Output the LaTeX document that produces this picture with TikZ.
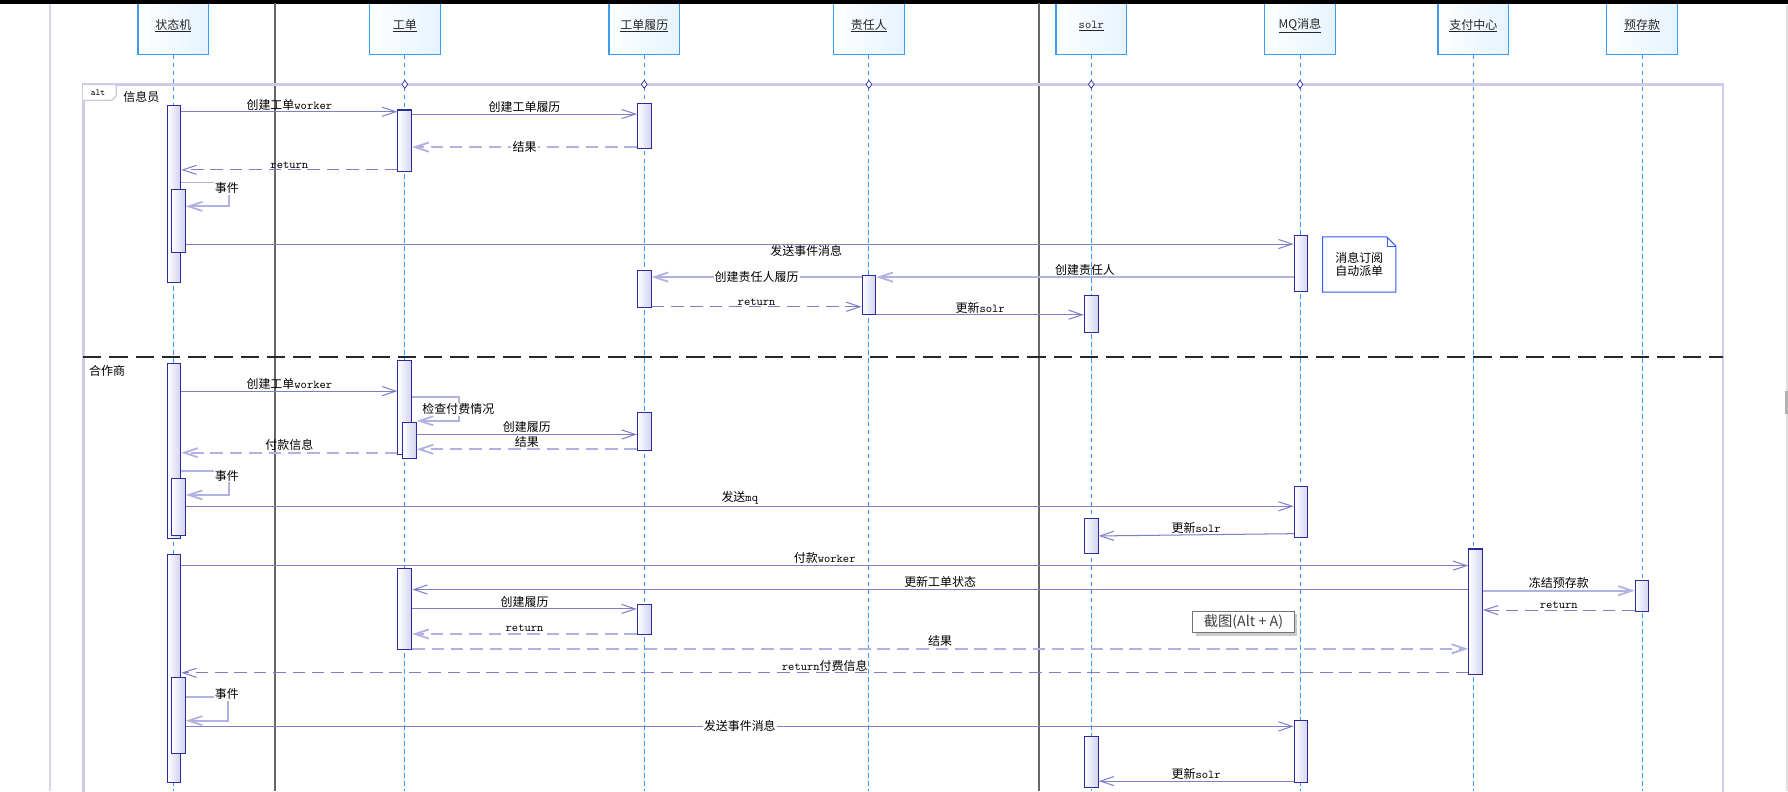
\documentclass[tikz,border=0pt]{standalone}
\usepackage{fontspec}
\setmainfont{Noto Sans CJK SC}
\usetikzlibrary{arrows.meta,calc,shadows}
\definecolor{msgline}{HTML}{7F7FC8}
\definecolor{msglight}{HTML}{B2B2E2}
\definecolor{actedge}{HTML}{2B2B99}
\definecolor{actfill}{HTML}{D2D2F2}
\definecolor{lifeblue}{HTML}{3399FF}
\definecolor{headedge}{HTML}{3C9CF0}
\definecolor{headfill}{HTML}{E6F3FF}
\definecolor{framelav}{HTML}{CCCCE8}
\definecolor{sepgray}{HTML}{666666}
\definecolor{noteblue}{HTML}{2F5BFF}
\newcommand{\eng}[1]{{\ttfamily #1}}

\tikzset{
  head/.style={draw=headedge, line width=1pt, left color=white, right color=headfill,
    minimum width=62, minimum height=50, anchor=south, text=black!85,
    font=\fontsize{10.5}{12}\selectfont},
  lifeline/.style={lifeblue, line width=0.8pt, dash pattern=on 4pt off 3pt},
  act/.style={draw=actedge, line width=0.9pt, left color=white, right color=actfill,
    minimum width=12, inner sep=0pt, anchor=north},
  msg/.style={msgline, line width=0.9pt, -{Straight Barb[length=12pt,width=8pt]}},
  msgl/.style={msg, msglight, line width=1.6pt},
  ret/.style={msg, dash pattern=on 11pt off 6pt},
  retl/.style={msgl, dash pattern=on 11pt off 6pt},
  lbl/.style={font=\fontsize{10.5}{12}\selectfont, inner sep=1pt, text=black},
  lblup/.style={lbl, anchor=south},
  lblon/.style={lbl, fill=white},
  notebox/.style={minimum width=64, minimum height=48, inner sep=0pt, align=center,
    text=black, font=\fontsize{10.5}{12}\selectfont},
  shotbox/.style={draw=black!55, fill=white, line width=0.8pt, text=black!75,
    font=\fontsize{12.5}{13}\selectfont, minimum width=89, minimum height=19, inner sep=1pt,
    drop shadow={shadow xshift=2.5pt, shadow yshift=-2.5pt, fill=black!40}},
}

\begin{document}
\begin{tikzpicture}[x=1pt,y=-1pt,>=Latex]
\useasboundingbox (0,0) rectangle (1568,694);
\fill[white] (0,0) rectangle (1568,694);
\draw[framelav!80, line width=1.2pt] (44,0) -- (44,694);

% lifelines
\foreach \n/\x/\t in {sm/152/状态机, wo/355/工单, woh/565/工单履历, resp/762/责任人,
    solr/957/\eng{solr}, mq/1140/MQ消息, pay/1292/支付中心, dep/1440/预存款}{
  \draw[lifeline] (\x,48) -- (\x,694);
  \node[head] (\n) at (\x,48) {\underline{\t}};
}
\fill[black] (0,0) rectangle (1568,3.5);
\fill[black!12] (1566.5,4) rectangle (1568,694);
\fill[black!30] (1565.5,343) rectangle (1568,363);
\draw[sepgray, line width=1.2pt] (241,3) -- (241,694);
\draw[sepgray, line width=1.2pt] (911,3) -- (911,694);

% alt frame
\draw[framelav, line width=2.5pt] (73,700) -- (73,74) -- (1511,74) -- (1511,700);
\draw[framelav, line width=1.3pt, fill=white] (73,74) -- (102,74) -- (102,84) -- (98,88) -- (73,88);
\node[font=\fontsize{8}{9}\selectfont\ttfamily, inner sep=0pt] (altlbl) at (86,81) {alt};
\foreach \x in {355,565,762,957,1140}
  \draw[actedge, fill=white, line width=0.6pt] (\x,70.5) -- (\x+2.5,74) -- (\x,77.5) -- (\x-2.5,74) -- cycle;
\draw[black!85, line width=1.4pt, dash pattern=on 16pt off 7pt] (73,313) -- (1511,313);
\node[lbl, anchor=west] (g1) at (107,85) {信息员};
\node[lbl, anchor=west] (g2) at (77,325) {合作商};

% 信息员
\node[act, minimum height=155] (sm1) at (152.5,92) {};
\node[act, minimum height=55] (sm1b) at (156.5,166) {};
\node[act, minimum height=54] (wo1) at (355,96) {};
\node[act, minimum height=40] (woh1) at (565,90) {};
\node[act, minimum height=49] (mq1) at (1141,206) {};
\node[act, minimum height=34] (resp1) at (762,241) {};
\node[act, minimum height=32] (woh2) at (565,237) {};
\node[act, minimum height=32] (solr1) at (957,259) {};

\draw[msg] (sm1.east |- 0,98) -- node[lblup]{创建工单\eng{worker}} (wo1.west |- 0,98);
\draw[msg] (wo1.east |- 0,100) -- node[lblup]{创建工单履历} (woh1.west |- 0,100);
\draw[retl] (woh1.west |- 0,129) -- node[lblon]{结果} (wo1.east |- 0,129);
\draw[ret] (wo1.west |- 0,149) -- node[lblup]{\eng{return}} (sm1.east |- 0,149);
\draw[msgl] (sm1.east |- 0,160) -- ++(42,0) |- (sm1b.east |- 0,181);
\node[lblon] (ev1) at (199,165) {事件};
\draw[msg] (sm1b.east |- 0,214) -- node[lbl, pos=0.56, anchor=north]{发送事件消息} (mq1.west |- 0,214);
\node[notebox] (sub) at (1192,232) {消息订阅\\自动派单};
\draw[noteblue, line width=0.9pt] (sub.north west) -- ($(sub.north east)+(-8,0)$)
  -- ($(sub.north east)+(0,8)$) |- (sub.south west) -- cycle;
\draw[noteblue, line width=0.6pt] ($(sub.north east)+(-8,0)$) |- ($(sub.north east)+(0,8)$);
\draw[msgl] (mq1.west |- 0,243) -- node[lblup]{创建责任人} (resp1.east |- 0,243);
\draw[msgl] (resp1.west |- 0,243) -- node[lblon]{创建责任人履历} (woh2.east |- 0,243);
\draw[ret] (woh2.east |- 0,269) -- node[lblup]{\eng{return}} (resp1.west |- 0,269);
\draw[msg] (resp1.east |- 0,276) -- node[lblup]{更新\eng{solr}} (solr1.west |- 0,276);

% 合作商
\node[act, minimum height=154] (sm2) at (152.5,318) {};
\node[act, minimum height=50] (sm2b) at (156.5,419) {};
\node[act, minimum height=82] (wo2) at (355,316) {};
\node[act, minimum height=32] (wo2b) at (359,370) {};
\node[act, minimum height=34] (woh3) at (565,361) {};
\node[act, minimum height=45] (mq2) at (1141,426) {};
\node[act, minimum height=31] (solr2) at (957,454) {};

\draw[msg] (sm2.east |- 0,343) -- node[lblup]{创建工单\eng{worker}} (wo2.west |- 0,343);
\draw[msgl] (wo2.east |- 0,348) -- ++(41,0) |- (wo2b.east |- 0,369);
\node[lblon] (chk) at (402,359) {检查付费情况};
\draw[msg] (wo2b.east |- 0,381) -- node[lblup]{创建履历} (woh3.west |- 0,381);
\draw[retl] (woh3.west |- 0,394) -- node[lblup]{结果} (wo2b.east |- 0,394);
\draw[retl] (wo2.west |- 0,397) -- node[lblup]{付款信息} (sm2.east |- 0,397);
\draw[msgl] (sm2.east |- 0,413) -- ++(42,0) |- (sm2b.east |- 0,434);
\node[lblon] (ev2) at (199,417) {事件};
\draw[msg] (sm2b.east |- 0,444) -- node[lblup]{发送\eng{mq}} (mq2.west |- 0,444);
\draw[msg] (mq2.west |- 0,468) -- node[lblup]{更新\eng{solr}} (solr2.east |- 0,470);

\node[act, minimum height=200] (sm3) at (152.5,486) {};
\node[act, minimum height=66] (sm3b) at (156.5,594) {};
\node[act, minimum height=110] (pay1) at (1294,481) {};
\node[act, minimum height=71] (wo3) at (355,498) {};
\node[act, minimum height=27] (dep1) at (1440,509) {};
\node[act, minimum height=26] (woh4) at (565,530) {};
\node[act, minimum height=55] (mq3) at (1141,631) {};
\node[act, minimum height=45] (solr3) at (957,645) {};

\draw[msg] (sm3.east |- 0,496) -- node[lblup]{付款\eng{worker}} (pay1.west |- 0,496);
\draw[msg] (pay1.west |- 0,517) -- node[lblup]{更新工单状态} (wo3.east |- 0,517);
\draw[msgl] (pay1.east |- 0,518) -- node[lblup]{冻结预存款} (dep1.west |- 0,518);
\draw[ret] (dep1.west |- 0,535) -- node[lblup]{\eng{return}} (pay1.east |- 0,535);
\draw[msg] (wo3.east |- 0,534) -- node[lblup]{创建履历} (woh4.west |- 0,534);
\draw[retl] (woh4.west |- 0,556) -- node[lblup]{\eng{return}} (wo3.east |- 0,556);
\draw[retl] (wo3.east |- 0,569) -- node[lblup]{结果} (pay1.west |- 0,569);
\draw[ret] (pay1.west |- 0,590) -- node[lblup]{\eng{return}付费信息} (sm3.east |- 0,590);
\draw[msgl] (sm3b.east |- 0,611) -- ++(37,0) |- (sm3b.east |- 0,632);
\node[lblon] (ev3) at (199,609) {事件};
\draw[msg] (sm3b.east |- 0,637) -- node[lblon]{发送事件消息} (mq3.west |- 0,637);
\draw[msg] (mq3.west |- 0,685) -- node[lblup]{更新\eng{solr}} (solr3.east |- 0,685);

\node[shotbox] (shot) at (1090.5,545.5) {截图(Alt + A)};
\end{tikzpicture}
\end{document}
